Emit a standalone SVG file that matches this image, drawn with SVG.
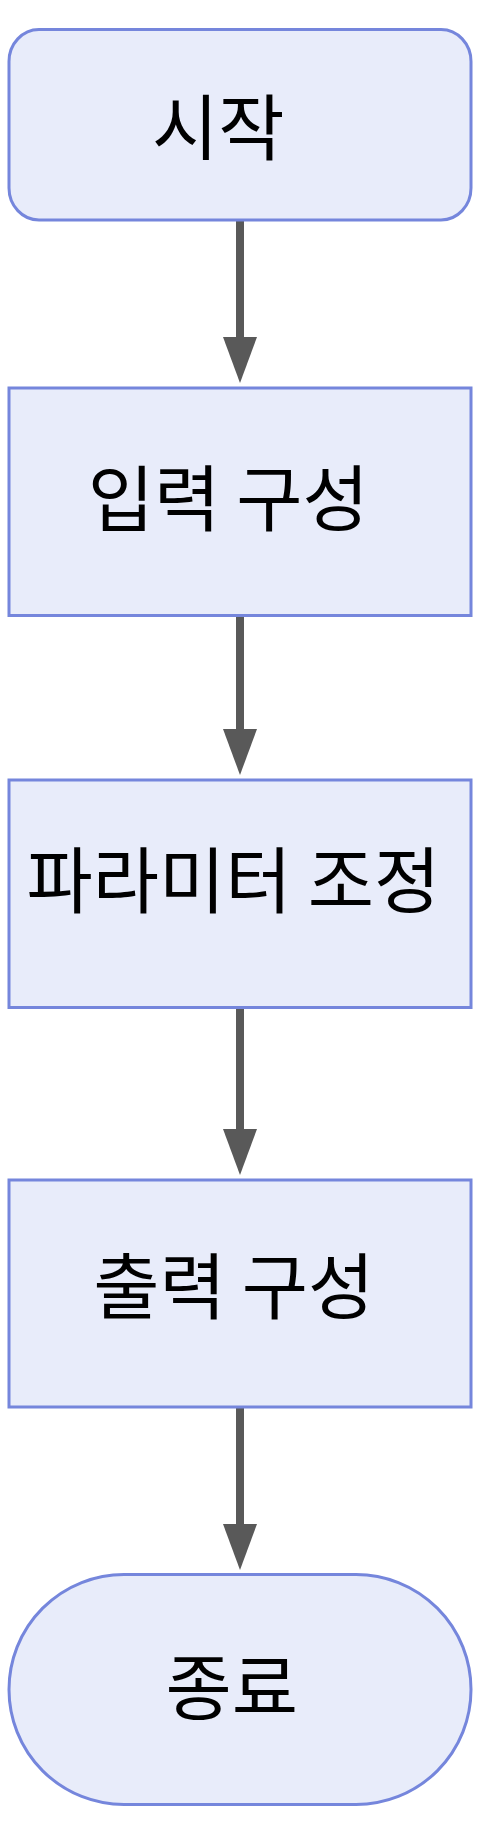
<svg xmlns="http://www.w3.org/2000/svg" width="488" height="1832" viewBox="0 0 488 1832">
  <style>
    .node { fill: #e8ecfa; stroke: #7586dc; stroke-width: 3; }
    .label { font-family: "Noto Sans CJK KR", "Noto Sans", sans-serif; font-size: 72px; fill: #000000; text-anchor: middle; }
    .edge { fill: none; stroke: #595959; stroke-width: 8; }
  </style>
  <defs>
    <marker id="arrow" markerUnits="userSpaceOnUse" viewBox="0 0 46 34" refX="8" refY="17" markerWidth="46" markerHeight="34" orient="auto">
      <path d="M0,0 L46,17 L0,34 Z" fill="#595959"/>
    </marker>
  </defs>
  <rect width="488" height="1832" fill="#ffffff"/>
  <g id="connectors">
    <path class="edge" d="M240,220 L240,345" marker-end="url(#arrow)"/>
    <path class="edge" d="M240,616 L240,737" marker-end="url(#arrow)"/>
    <path class="edge" d="M240,1008 L240,1137" marker-end="url(#arrow)"/>
    <path class="edge" d="M240,1407 L240,1532" marker-end="url(#arrow)"/>
  </g>
  <g id="start">
    <rect class="node" x="9" y="29.5" width="462" height="190.5" rx="30" ry="32"/>
    <text class="label" x="218.3" y="154">시작</text>
  </g>
  <g id="input">
    <rect class="node" x="9" y="388" width="462" height="227.5"/>
    <text class="label" x="228.3" y="525">입력 구성</text>
  </g>
  <g id="params">
    <rect class="node" x="9" y="780" width="462" height="227.5"/>
    <text class="label" x="233.4" y="906.5">파라미터 조정</text>
  </g>
  <g id="output">
    <rect class="node" x="9" y="1180" width="462" height="227"/>
    <text class="label" x="233.8" y="1312.5">출력 구성</text>
  </g>
  <g id="end">
    <rect class="node" x="9" y="1574.5" width="462" height="230" rx="115" ry="115"/>
    <text class="label" x="231.7" y="1714">종료</text>
  </g>
</svg>
